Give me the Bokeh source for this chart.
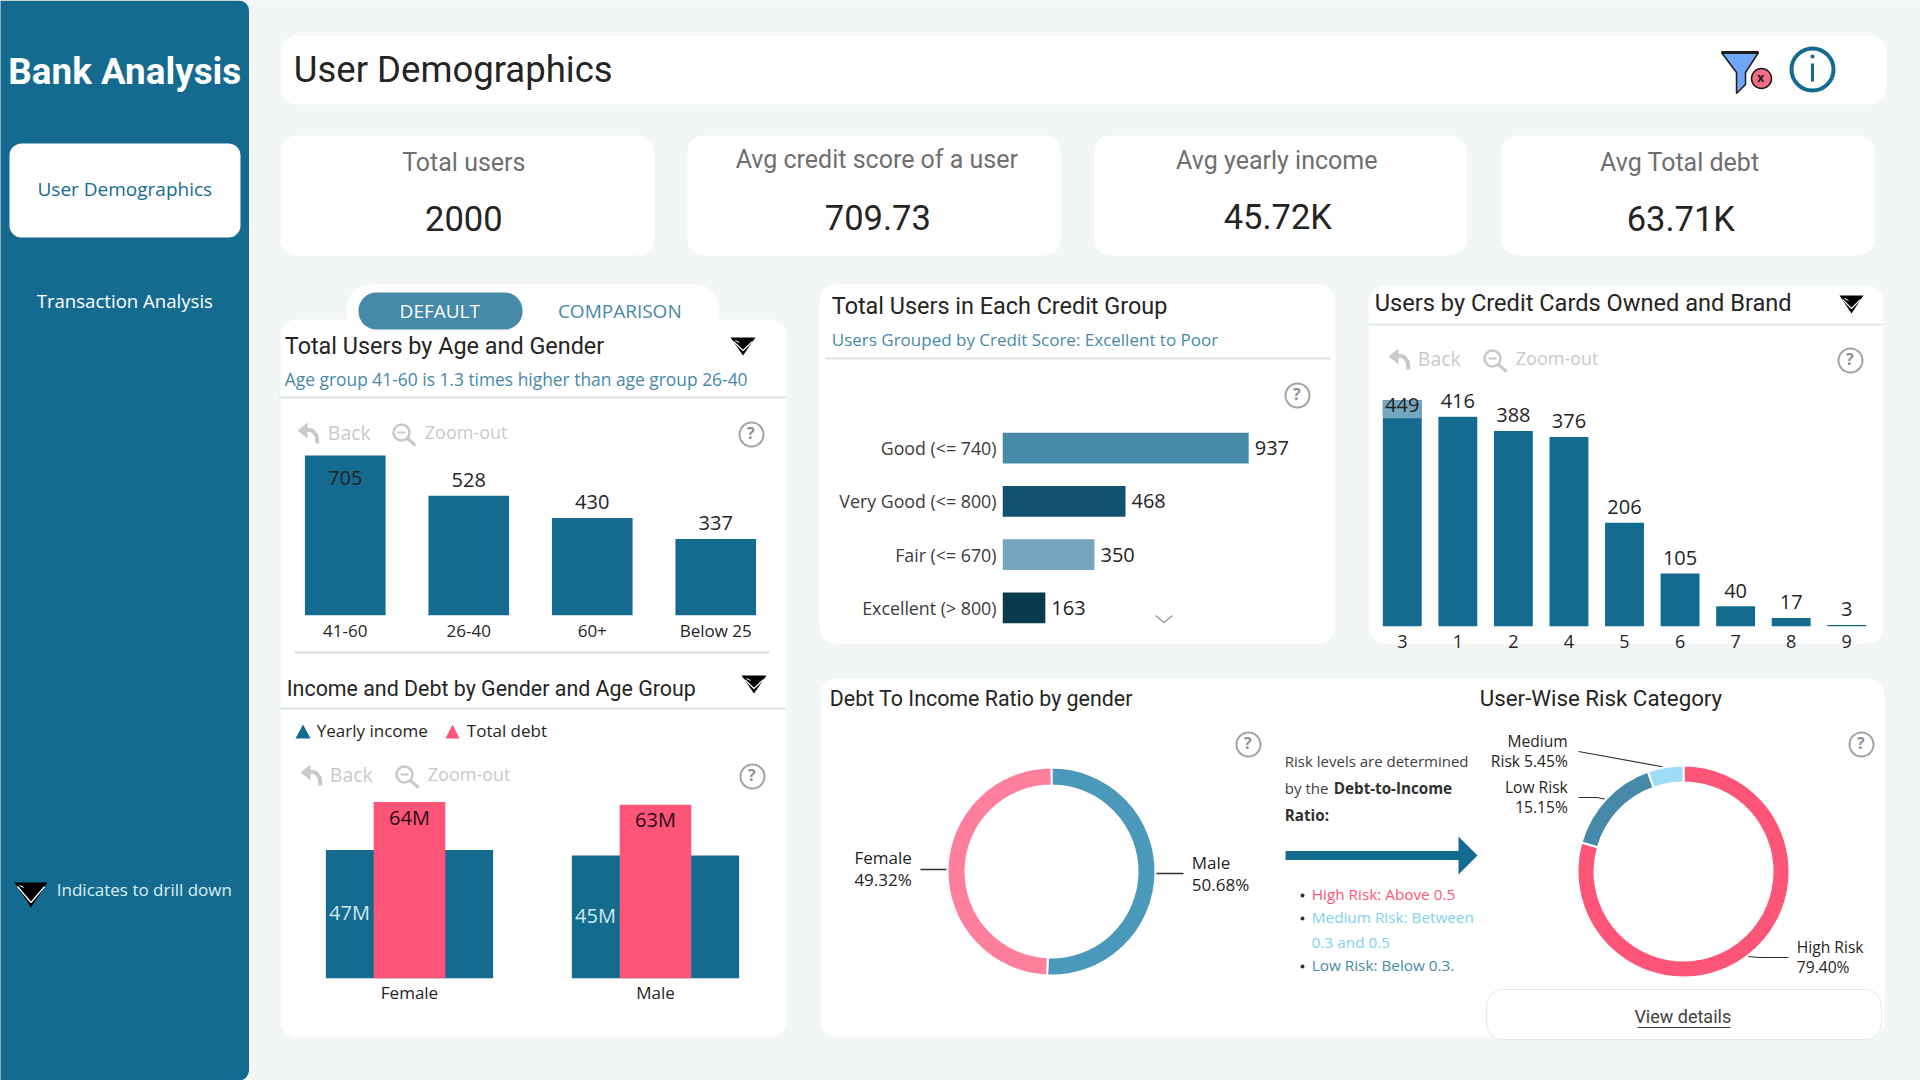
from bokeh.plotting import figure
from bokeh.layouts import column
from bokeh.models import Range1d, FactorRange
from bokeh.core.properties import value
from bokeh.embed import file_html
from bokeh.resources import INLINE
import math

# ---------- data ----------
kpi_titles = ["Total users", "Avg credit score of a user", "Avg yearly income", "Avg Total debt"]
kpi_values = ["2000", "709.73", "45.72K", "63.71K"]

age_groups = ["41-60", "26-40", "60+", "Below 25"]
age_users = [705, 528, 430, 337]

genders = ["Female", "Male"]
yearly_income_m = [46.6, 44.6]
total_debt_m = [64.0, 63.0]

credit_groups = ["Good (<= 740)", "Very Good (<= 800)", "Fair (<= 670)", "Excellent (> 800)"]
credit_users = [937, 468, 350, 163]
credit_colors = ["#4689a9", "#115270", "#74a6bd", "#0b3a4f"]

cards_owned = ["3", "1", "2", "4", "5", "6", "7", "8", "9"]
cards_users = [449, 416, 388, 376, 206, 105, 40, 17, 3]

dti_names = ["Male", "Female"]
dti_pct = [50.68, 49.32]
dti_colors = ["#4a98ba", "#fd7f9c"]

risk_names = ["High Risk", "Low Risk", "Medium Risk"]
risk_pct = [79.40, 15.15, 5.45]
risk_colors = ["#fd5578", "#4689a9", "#9fdcf5"]

# ---------- palette / fonts ----------
BG = "#f2f6f6"
TEAL = "#156b8f"
MID = "#4689a9"
PINK = "#fd5578"
INK = "#252423"
GREY = "#6f6f6f"
LIGHT = "#c9c9c9"
DIN = "Roboto"
UI = "Open Sans"
AXIS_ROOM = 40

figs = []


def place(x, y):
    return {"position": "absolute", "left": f"{x}px", "top": f"{y}px"}


def base(x, y, w, h, wrap=False, **kw):
    p = figure(width=w, height=h, toolbar_location=None, tools="", output_backend="svg",
               background_fill_alpha=0, border_fill_alpha=0, outline_line_color=None,
               min_border_left=0, min_border_right=0, min_border_top=0, min_border_bottom=0,
               styles={} if wrap else place(x, y), **kw)
    p.grid.visible = False
    # a figure with a side panel of its own goes into its own box, so that its panel stays its own
    figs.append(column(p, width=w, height=h, styles=place(x, y)) if wrap else p)
    return p


def style_axis(ax, size, standoff=4, color=INK):
    ax.axis_line_color = None
    ax.major_tick_line_color = None
    ax.minor_tick_line_color = None
    ax.major_tick_out = 0
    ax.major_tick_in = 0
    ax.minor_tick_out = 0
    ax.major_label_text_font = UI
    ax.major_label_text_font_size = size
    ax.major_label_text_color = color
    ax.major_label_standoff = standoff


# ---------- canvas ----------
c = base(0, 0, 1920, 1080, x_range=Range1d(0, 1920), y_range=Range1d(1080, 0))
c.axis.visible = False
c.background_fill_color = BG
c.background_fill_alpha = 1
c.border_fill_color = BG
c.border_fill_alpha = 1


def card(x0, y0, x1, y1, color="white", r=16, line=None):
    c.quad(left=[x0], right=[x1], top=[y0], bottom=[y1], fill_color=color, line_color=line, border_radius=r)


def txt(x, y, s, size=17, color=INK, font=UI, align="left", style="normal"):
    c.text([x - 0.7], [y - (1.2 if font == UI else 0.4)], text=[s], text_font=value(font),
           text_font_size=f"{size}px", text_color=color,
           text_align=align, text_baseline="middle", text_font_style=style)


def seg(xs, ys, color=LIGHT, w=1.5):
    c.line(xs, ys, line_color=color, line_width=w)


def qmark(x, y):
    c.circle([x], [y], radius=12, fill_color=None, line_color="#a3a3a3", line_width=2)
    txt(x, y, "?", 16, "#8f8f8f", UI, "center", "bold")


def back_row(y, ax, bx, zx, tx):
    c.patch([ax, ax + 10, ax + 10], [y - 3, y - 11, y + 5], fill_color=LIGHT, line_color=None)
    c.line([ax + 8, ax + 15, ax + 19, ax + 20], [y - 4, y - 3, y + 2, y + 10], line_color=LIGHT, line_width=4)
    txt(bx, y, "Back", 19.5, LIGHT, UI)
    c.circle([zx + 9], [y - 1], radius=8, fill_color=None, line_color=LIGHT, line_width=2.5)
    seg([zx + 5, zx + 13], [y - 1, y - 1], LIGHT, 2)
    seg([zx + 15, zx + 23], [y + 5, y + 12], LIGHT, 3.5)
    txt(tx, y, "Zoom-out", 18, LIGHT, UI)


def drill(x0, x1, y0, y1):
    m = (x0 + x1) / 2
    c.patch([x0, x1, m], [y0, y0, y1], fill_color="#000000", line_color=None)
    c.line([x0 + 3, m, x1 - 3], [y0 + 4, y1 - 5, y0 + 4], line_color="white", line_width=1.2)
    c.line([x0 + 5, x0 + 9], [y0 + 3, y0 + 5], line_color="white", line_width=1)


# page frame
card(-30, 0, 248.5, 1080, TEAL, 10)
txt(125, 71.5, "Bank Analysis", 36.8, "white", DIN, "center", "bold")
card(9, 143, 240, 237, "white", 12)
txt(125, 190, "User Demographics", 19, TEAL, UI, "center")
txt(125, 301, "Transaction Analysis", 18.6, "white", UI, "center")
drill(14, 47, 882, 907)
txt(57, 890, "Indicates to drill down", 17, "#d7f0f5", UI)

# header
card(280, 35, 1886, 104, "white", 16)
txt(294, 69, "User Demographics", 36.5, INK, DIN, "left", "normal")
c.patch([1721, 1758, 1745, 1745, 1736, 1736], [52, 52, 72, 84, 93, 72], fill_color="#6ea7f5", line_color="#1c1c1c", line_width=1.5)
seg([1721, 1758], [52, 52], "#1c1c1c", 3)
c.circle([1761], [78], radius=10, fill_color="#f26d85", line_color="#1c1c1c", line_width=1.5)
txt(1761, 78, "x", 12, "#1c1c1c", UI, "center", "bold")
c.circle([1812], [69], radius=21, fill_color=None, line_color=TEAL, line_width=4)
seg([1812, 1812], [63, 81], TEAL, 3)
c.circle([1812], [56], radius=2, fill_color=TEAL, line_color=None)

# KPI cards
kpi_boxes = [(280, 654), (687, 1060), (1094, 1466), (1501, 1874)]
kpi_title_pos = [(464, 162), (877, 159), (1277, 160), (1680, 162)]
kpi_value_pos = [(464, 218), (878, 217), (1278, 217), (1681, 219)]
for (x0, x1), t, v, tp, vp in zip(kpi_boxes, kpi_titles, kpi_values, kpi_title_pos, kpi_value_pos):
    card(x0, 135, x1, 255, "white", 16)
    txt(tp[0], tp[1], t, 25, GREY, DIN, "center")
    txt(vp[0], vp[1], v, 34.5, INK, DIN, "center")

# left column card
card(280, 319, 786, 1037)
card(346, 284, 719, 336, "white", 24)
card(358, 292, 522, 329, MID, 18)
txt(440, 312, "DEFAULT", 19, "white", UI, "center")
txt(620, 312, "COMPARISON", 19, MID, UI, "center")
txt(285, 345.5, "Total Users by Age and Gender", 23.4, INK, DIN)
txt(285, 380, "Age group 41-60 is 1.3 times higher than age group 26-40", 17.4, MID, UI)
seg([278, 786], [397, 397], "#dfe3e3", 2)
drill(730, 755, 337, 355)
back_row(433, 297, 328, 392, 425)
qmark(751, 434)
seg([294, 769], [652, 652], "#e0e0e0", 2.5)
txt(287, 688, "Income and Debt by Gender and Age Group", 21.4, INK, DIN)
drill(741, 766, 675, 693)
seg([280, 786], [708, 708], "#dfe3e3", 2)
c.patch([295, 310, 302.5], [738, 738, 724], fill_color=TEAL, line_color=None)
txt(317, 731, "Yearly income", 17, INK)
c.patch([445, 459, 452], [738, 738, 724], fill_color=PINK, line_color=None)
txt(467, 731, "Total debt", 17, INK)
back_row(775, 300, 330, 395, 428)
qmark(752, 776)

# credit card
card(819, 284, 1335, 643)
txt(832, 305.5, "Total Users in Each Credit Group", 23.4, INK, DIN)
txt(832, 340, "Users Grouped by Credit Score: Excellent to Poor", 17, MID, UI)
seg([825, 1330], [358, 358], "#dfe3e3", 2)
qmark(1297, 395)
c.line([1155, 1163.5, 1172], [615, 622, 615], line_color="#9a9a9a", line_width=1.5)

# cards card
card(1368, 285, 1883, 643)
txt(1375, 303, "Users by Credit Cards Owned and Brand", 23.6, INK, DIN)
seg([1368, 1883], [324, 324], "#dfe3e3", 1.5)
drill(1839, 1863, 295, 313)
back_row(359, 1388, 1418, 1483, 1516)
qmark(1850, 360)

# bottom card
card(820, 678, 1884, 1037)
txt(830, 698, "Debt To Income Ratio by gender", 21.4, INK, DIN)
txt(1480, 698, "User-Wise Risk Category", 22.3, INK, DIN)
qmark(1248, 744)
qmark(1861, 744)
txt(1285, 762, "Risk levels are determined", 15, "#404040")
txt(1285, 789, "by the", 15, "#404040")
txt(1334, 789, "Debt-to-Income", 15.2, "#303030", UI, "left", "bold")
txt(1285, 816, "Ratio:", 15.2, "#303030", UI, "left", "bold")
c.quad(left=[1285], right=[1459], top=[850.5], bottom=[859.5], fill_color=TEAL, line_color=None)
c.patch([1458, 1477, 1458], [836, 855, 874], fill_color=TEAL, line_color=None)
for y in (895, 918, 966):
    c.circle([1302], [y], radius=2, fill_color="#303030", line_color=None)
txt(1312, 895, "High Risk: Above 0.5", 15.3, "#fd5578")
txt(1312, 918, "Medium Risk: Between", 15.3, "#7ed0f0")
txt(1312, 943, "0.3 and 0.5", 15.3, "#7ed0f0")
txt(1312, 966, "Low Risk: Below 0.3.", 15.3, MID)
card(1486, 989, 1881, 1039, "white", 16, "#e6e9e9")
txt(1683, 1016, "View details", 18, "#404040", DIN, "center")
seg([1637, 1730], [1027, 1027], "#404040", 1)

# donut labels and leaders (values come from the arrays)
seg([920, 949], [869, 869], "#303030", 1.5)
txt(912, 858, dti_names[1], 17, INK, UI, "right")
txt(912, 880, f"{dti_pct[1]:.2f}%", 17, INK, UI, "right")
seg([1154, 1183], [873, 873], "#303030", 1.5)
txt(1192, 863, dti_names[0], 17, INK)
txt(1192, 885, f"{dti_pct[0]:.2f}%", 17, INK)
seg([1578, 1666], [751, 767], "#303030", 1.2)
seg([1578, 1597, 1606], [797, 797, 799], "#303030", 1.2)
seg([1788, 1760, 1746], [957, 957, 956], "#303030", 1.2)
txt(1568, 742, "Medium", 15.6, INK, UI, "right")
txt(1568, 762, f"Risk {risk_pct[2]:.2f}%", 15.6, INK, UI, "right")
txt(1568, 788, "Low Risk", 15.6, INK, UI, "right")
txt(1568, 808, f"{risk_pct[1]:.2f}%", 15.6, INK, UI, "right")
txt(1797, 948, "High Risk", 15.6, INK)
txt(1797, 968, f"{risk_pct[0]:.2f}%", 15.6, INK)

# ---------- chart 1: age ----------
px1 = 160 / 705
p1 = base(283, 440, 494, 175 + AXIS_ROOM, x_range=FactorRange(factors=age_groups), y_range=Range1d(0, 175 / px1))
p1.yaxis.visible = False
p1.min_border_bottom = AXIS_ROOM
style_axis(p1.xaxis[0], "17px", 3)
p1.vbar(x=age_groups, top=age_users, width=0.653, fill_color=TEAL, line_color=None)
p1.text(x=age_groups, y=age_users, text=[str(v) for v in age_users],
        y_offset=[22 if v == max(age_users) else -16 for v in age_users],
        text_font=value(UI), text_font_size="20px", text_color=INK, text_align="center", text_baseline="middle")

# ---------- chart 2: income & debt ----------
px2 = 176.4 / 64
p2 = base(286, 790, 492, 188 + AXIS_ROOM, x_range=FactorRange(factors=genders), y_range=Range1d(0, 188 / px2))
p2.yaxis.visible = False
p2.min_border_bottom = AXIS_ROOM
style_axis(p2.xaxis[0], "17px", 2)
p2.vbar(x=genders, top=yearly_income_m, width=0.68, fill_color=TEAL, line_color=None)
p2.vbar(x=genders, top=total_debt_m, width=0.291, fill_color=PINK, line_color=None)
p2.text(x=genders, y=[v / 2 for v in yearly_income_m], text=[f"{round(v)}M" for v in yearly_income_m],
        x_offset=-60, y_offset=-2, text_font=value(UI), text_font_size="20px", text_color="#cfe9f0",
        text_align="center", text_baseline="middle")
p2.text(x=genders, y=total_debt_m, text=[f"{round(v)}M" for v in total_debt_m], y_offset=15,
        text_font=value(UI), text_font_size="20px", text_color="#2a0a14",
        text_align="center", text_baseline="middle")

# ---------- chart 3: credit groups ----------
px3 = 246.2 / 937
p3 = base(822, 421, 180 + 300, 213, wrap=True, x_range=Range1d(0, 300 / px3),
          y_range=FactorRange(factors=credit_groups[::-1]))
p3.min_border_left = 180
p3.xaxis.visible = False
style_axis(p3.yaxis[0], "17.8px", 6, "#3a3a3a")
p3.hbar(y=credit_groups, right=credit_users, height=0.575, fill_color=credit_colors, line_color=None)
p3.text(x=credit_users, y=credit_groups, text=[str(v) for v in credit_users], x_offset=6,
        text_font=value(UI), text_font_size="20px", text_color=INK, text_align="left", text_baseline="middle")

# ---------- chart 4: credit cards ----------
px4 = 226.3 / 449
p4 = base(1373.5, 385, 500, 241 + AXIS_ROOM, x_range=FactorRange(factors=cards_owned), y_range=Range1d(0, 241 / px4))
p4.yaxis.visible = False
p4.min_border_bottom = AXIS_ROOM
style_axis(p4.xaxis[0], "18px", 8)
p4.vbar(x=cards_owned, top=cards_users, width=0.70, fill_color=TEAL, line_color=None)
top_band = 36
p4.vbar(x=cards_owned[:1], bottom=[cards_users[0] - top_band], top=cards_users[:1], width=0.70,
        fill_color="#74a6bd", line_color=None)
p4.text(x=cards_owned, y=cards_users, text=[str(v) for v in cards_users],
        y_offset=[5 if v == max(cards_users) else -15.5 for v in cards_users],
        text_font=value(UI), text_font_size="20px", text_color=INK, text_align="center", text_baseline="middle")


# ---------- donuts ----------
def donut(cx, cy, ro, ri, pct, colors, half=125):
    d = base(cx - half, cy - half, 2 * half, 2 * half, x_range=Range1d(-half, half), y_range=Range1d(-half, half))
    d.axis.visible = False
    total = sum(pct)
    start = []
    end = []
    a = math.pi / 2
    for v in pct:
        start.append(a)
        a -= 2 * math.pi * v / total
        end.append(a)
    d.annular_wedge(x=0, y=0, inner_radius=ri, outer_radius=ro, start_angle=start, end_angle=end,
                    direction="clock", fill_color=colors, line_color="white", line_width=2)
    return d


donut(1051, 871, 104, 86, dti_pct, dti_colors)
donut(1682.5, 871, 106, 89, risk_pct, risk_colors)

layout = column(*figs, width=1920, height=1080, styles=place(0, 0))
open("out.html", "w").write(file_html(layout, INLINE))
